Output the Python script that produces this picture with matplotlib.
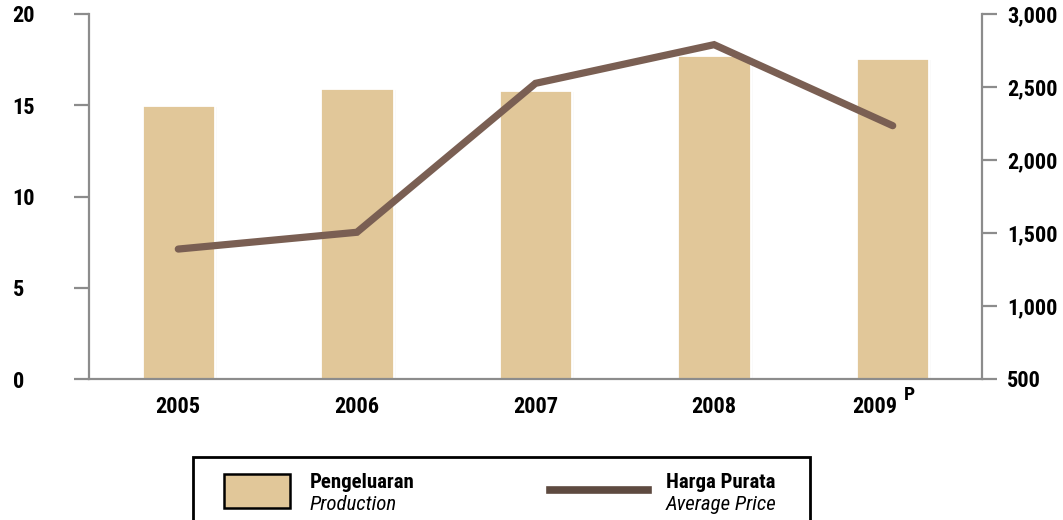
import numpy as np
import matplotlib
matplotlib.use("Agg")
import matplotlib.pyplot as plt
from matplotlib.patches import Rectangle
from matplotlib.lines import Line2D
from matplotlib import patheffects as pe
from matplotlib.transforms import ScaledTranslation

# data
years = ["2005", "2006", "2007", "2008", "2009"]
production = [15.0, 15.95, 15.85, 17.75, 17.6]
avg_price = [1390, 1505, 2525, 2790, 2235]
price_ticks = [500, 1000, 1500, 2000, 2500, 3000]

bar_color = "#e1c799"
line_color = "#7a5f53"
axis_color = "#8c8c8c"

# narrow face like the original, with safe fallbacks
plt.rcParams["font.family"] = ["Roboto Condensed", "Liberation Sans", "DejaVu Sans"]

fig = plt.figure(figsize=(10.63, 5.20), dpi=100)
ax = fig.add_axes([89 / 1063, 1 - 379 / 520, (982 - 89) / 1063, 365 / 520])

x = np.arange(len(years))

# bars with white border and a faint shadow
bars = ax.bar(x, production, width=0.41, color=bar_color, edgecolor="white",
              linewidth=2, zorder=2)
for b in bars:
    b.set_path_effects([pe.SimplePatchShadow(offset=(1.5, -1.5), alpha=0.15, shadow_rgbFace="k"),
                        pe.Normal()])

ax.set_xlim(-0.5, 4.5)
ax.set_ylim(0, 20)
ax.set_yticks([0, 5, 10, 15, 20])
ax.set_xticks(x)
ax.set_xticklabels(years)

# right axis for average price
ax2 = ax.twinx()
ax2.plot(x, avg_price, color=line_color, lw=5.2, solid_capstyle="round",
         solid_joinstyle="miter", zorder=3)
ax2.set_ylim(500, 3000)
ax2.set_yticks(price_ticks)
ax2.set_yticklabels([f"{v:,}" for v in price_ticks])

for a in (ax, ax2):
    a.spines["top"].set_visible(False)
    for s in ("left", "right", "bottom"):
        a.spines[s].set_color(axis_color)
        a.spines[s].set_linewidth(1.6)
ax.spines["right"].set_visible(False)
ax2.spines["left"].set_visible(False)
ax2.spines["bottom"].set_visible(False)

ax.tick_params(axis="y", length=11, width=1.6, color=axis_color, direction="out", pad=44)
ax.tick_params(axis="x", length=0, pad=12)
ax2.tick_params(axis="y", length=11, width=1.6, color=axis_color, direction="out", pad=7)

fs = 16
for lab in ax.get_yticklabels():
    lab.set_fontweight("bold")
    lab.set_fontsize(fs)
    lab.set_horizontalalignment("left")
for lab in ax2.get_yticklabels():
    lab.set_fontweight("bold")
    lab.set_fontsize(fs)
for lab in ax.get_xticklabels():
    lab.set_fontweight("bold")
    lab.set_fontsize(fs)

# shift the 2009 label left and add the "P" marker
last = ax.get_xticklabels()[-1]
last.set_transform(last.get_transform() + ScaledTranslation(-0.18, 0, fig.dpi_scale_trans))
fig.text(904 / 1063, 1 - 395 / 520, "P", fontsize=14, fontweight="bold", ha="left", va="center")

# legend box
fig.patches.append(Rectangle((193 / 1063, -0.05), (810 - 193) / 1063, 0.05 + (520 - 457) / 520,
                             transform=fig.transFigure, facecolor="white", edgecolor="black",
                             linewidth=2))
fig.patches.append(Rectangle((224 / 1063, 1 - 508 / 520), 66 / 1063, 34 / 520,
                             transform=fig.transFigure, facecolor=bar_color, edgecolor="black",
                             linewidth=1.8))
fig.lines.append(Line2D([550 / 1063, 648 / 1063], [1 - 490 / 520, 1 - 490 / 520],
                        transform=fig.transFigure, color="#5e4a40", lw=5.5))
lfs = 15
fig.text(310 / 1063, 1 - 488 / 520, "Pengeluaran", fontsize=lfs, fontweight="bold", va="baseline")
fig.text(310 / 1063, 1 - 510 / 520, "Production", fontsize=lfs, style="italic", va="baseline")
fig.text(666 / 1063, 1 - 488 / 520, "Harga Purata", fontsize=lfs, fontweight="bold", va="baseline")
fig.text(666 / 1063, 1 - 510 / 520, "Average Price", fontsize=lfs, style="italic", va="baseline")

fig.savefig("out.png", dpi=100)
